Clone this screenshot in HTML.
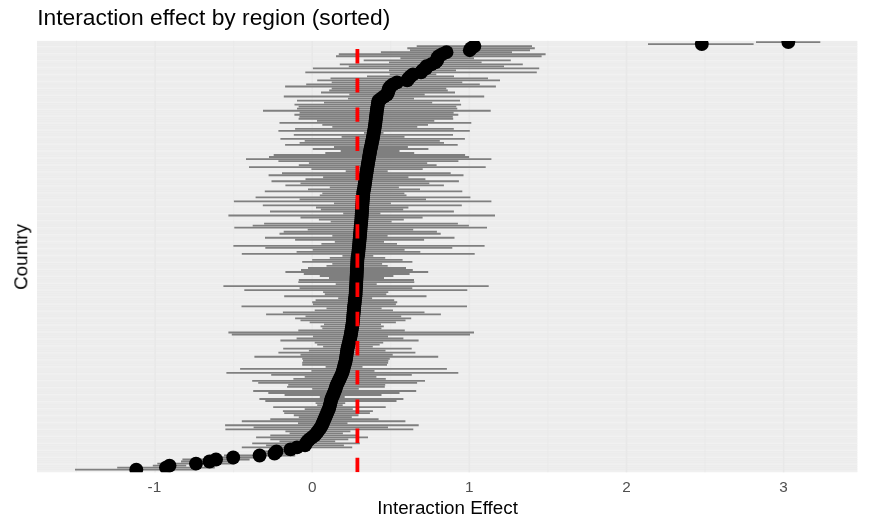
<!DOCTYPE html>
<html><head><meta charset="utf-8"><title>Interaction effect by region (sorted)</title>
<style>
html,body{margin:0;padding:0;background:#fff;}
svg{display:block;}
text{font-family:"Liberation Sans",Arial,Helvetica,sans-serif;}
</style></head><body>
<svg width="876" height="525" viewBox="0 0 876 525">
<rect width="876" height="525" fill="#fff"/>
<defs><clipPath id="pc"><rect x="37" y="40.9" width="820.3" height="431.3"/></clipPath></defs>

<rect x="37" y="40.9" width="820.3" height="431.3" fill="#ececec"/>
<path d="M37 42H857.3M37 44.3H857.3M37 49H857.3M37 51.3H857.3M37 55.9H857.3M37 58.3H857.3M37 62.9H857.3M37 65.2H857.3M37 69.9H857.3M37 72.2H857.3M37 76.8H857.3M37 79.1H857.3M37 83.8H857.3M37 86.1H857.3M37 90.7H857.3M37 93H857.3M37 97.7H857.3M37 100H857.3M37 104.6H857.3M37 107H857.3M37 111.6H857.3M37 113.9H857.3M37 118.6H857.3M37 120.9H857.3M37 125.5H857.3M37 127.8H857.3M37 132.5H857.3M37 134.8H857.3M37 139.4H857.3M37 141.8H857.3M37 146.4H857.3M37 148.7H857.3M37 153.4H857.3M37 155.7H857.3M37 160.3H857.3M37 162.6H857.3M37 167.3H857.3M37 169.6H857.3M37 174.2H857.3M37 176.6H857.3M37 181.2H857.3M37 183.5H857.3M37 188.2H857.3M37 190.5H857.3M37 195.1H857.3M37 197.5H857.3M37 202.1H857.3M37 204.4H857.3M37 209.1H857.3M37 211.4H857.3M37 216H857.3M37 218.3H857.3M37 223H857.3M37 225.3H857.3M37 229.9H857.3M37 232.3H857.3M37 236.9H857.3M37 239.2H857.3M37 243.9H857.3M37 246.2H857.3M37 250.8H857.3M37 253.1H857.3M37 257.8H857.3M37 260.1H857.3M37 264.7H857.3M37 267.1H857.3M37 271.7H857.3M37 274H857.3M37 278.7H857.3M37 281H857.3M37 285.6H857.3M37 287.9H857.3M37 292.6H857.3M37 294.9H857.3M37 299.5H857.3M37 301.8H857.3M37 306.5H857.3M37 308.8H857.3M37 313.4H857.3M37 315.8H857.3M37 320.4H857.3M37 322.7H857.3M37 327.4H857.3M37 329.7H857.3M37 334.3H857.3M37 336.6H857.3M37 341.3H857.3M37 343.6H857.3M37 348.2H857.3M37 350.6H857.3M37 355.2H857.3M37 357.5H857.3M37 362.2H857.3M37 364.5H857.3M37 369.1H857.3M37 371.4H857.3M37 376.1H857.3M37 378.4H857.3M37 383H857.3M37 385.4H857.3M37 390H857.3M37 392.3H857.3M37 397H857.3M37 399.3H857.3M37 403.9H857.3M37 406.2H857.3M37 410.9H857.3M37 413.2H857.3M37 417.8H857.3M37 420.2H857.3M37 424.8H857.3M37 427.1H857.3M37 431.8H857.3M37 434.1H857.3M37 438.7H857.3M37 441H857.3M37 445.7H857.3M37 448H857.3M37 452.6H857.3M37 455H857.3M37 459.6H857.3M37 461.9H857.3M37 466.6H857.3M37 468.9H857.3" stroke="#eeeeee" stroke-width="1" fill="none"/>
<path d="M37 46.7H857.3M37 53.6H857.3M37 60.6H857.3M37 67.5H857.3M37 74.5H857.3M37 81.5H857.3M37 88.4H857.3M37 95.4H857.3M37 102.3H857.3M37 109.3H857.3M37 116.2H857.3M37 123.2H857.3M37 130.2H857.3M37 137.1H857.3M37 144.1H857.3M37 151H857.3M37 158H857.3M37 165H857.3M37 171.9H857.3M37 178.9H857.3M37 185.9H857.3M37 192.8H857.3M37 199.8H857.3M37 206.7H857.3M37 213.7H857.3M37 220.7H857.3M37 227.6H857.3M37 234.6H857.3M37 241.5H857.3M37 248.5H857.3M37 255.5H857.3M37 262.4H857.3M37 269.4H857.3M37 276.3H857.3M37 283.3H857.3M37 290.2H857.3M37 297.2H857.3M37 304.2H857.3M37 311.1H857.3M37 318.1H857.3M37 325H857.3M37 332H857.3M37 339H857.3M37 345.9H857.3M37 352.9H857.3M37 359.8H857.3M37 366.8H857.3M37 373.8H857.3M37 380.7H857.3M37 387.7H857.3M37 394.6H857.3M37 401.6H857.3M37 408.6H857.3M37 415.5H857.3M37 422.5H857.3M37 429.4H857.3M37 436.4H857.3M37 443.4H857.3M37 450.3H857.3M37 457.3H857.3M37 464.2H857.3M37 471.2H857.3" stroke="#f1f1f1" stroke-width="1.3" fill="none"/>
<path d="M155.1 40.9V472.2M312.2 40.9V472.2M469.3 40.9V472.2M626.5 40.9V472.2M783.6 40.9V472.2" stroke="#e8e8e8" stroke-width="1.6" fill="none"/>
<path d="M76.5 40.9V472.2M233.6 40.9V472.2M390.8 40.9V472.2M547.9 40.9V472.2M705 40.9V472.2" stroke="#e9e9e9" stroke-width="0.9" fill="none"/>
<g clip-path="url(#pc)">
<g stroke="#7f7f7f" stroke-width="1.85" fill="none">
<path d="M75 469.6H196.6"/>
<path d="M117.2 467.6H214.8"/>
<path d="M152.8 465.6H186.2"/>
<path d="M157.3 463.6H234.7"/>
<path d="M181 461.5H238"/>
<path d="M182.4 459.5H249.6"/>
<path d="M210 457.5H256.4"/>
<path d="M224 455.5H295.2"/>
<path d="M258 453.5H291"/>
<path d="M261 451.5H292"/>
<path d="M271 449.4H310"/>
<path d="M241.8 447.4H352.2"/>
<path d="M266.1 445.4H343.9"/>
<path d="M252.2 443.4H359.8"/>
<path d="M279.5 441.4H335.2"/>
<path d="M270.3 439.4H348.3"/>
<path d="M256.1 437.3H368"/>
<path d="M270.3 435.3H359"/>
<path d="M289.6 433.3H342.9"/>
<path d="M285.4 431.3H350.4"/>
<path d="M225.4 429.3H413.3"/>
<path d="M253.6 427.3H388"/>
<path d="M225.1 425.2H418.7"/>
<path d="M298 423.2H347.5"/>
<path d="M241.8 421.2H405.4"/>
<path d="M270.3 419.2H378.6"/>
<path d="M298.8 417.2H351.8"/>
<path d="M293.8 415.2H358.5"/>
<path d="M284.2 413.1H369.9"/>
<path d="M282.9 411.1H372.9"/>
<path d="M304.7 409.1H352.8"/>
<path d="M273.2 407.1H385.7"/>
<path d="M317.2 405.1H342.7"/>
<path d="M315.6 403.1H345.2"/>
<path d="M265.3 401H396.5"/>
<path d="M259.4 399H403.4"/>
<path d="M319.8 397H344.7"/>
<path d="M284.6 395H381.5"/>
<path d="M268.3 393H399.5"/>
<path d="M253.2 391H416.2"/>
<path d="M312.2 388.9H358.8"/>
<path d="M287.1 386.9H384.8"/>
<path d="M288.2 384.9H385.2"/>
<path d="M258.2 382.9H417.1"/>
<path d="M252.2 380.9H425"/>
<path d="M293.4 378.9H385.8"/>
<path d="M304.7 376.8H376.4"/>
<path d="M271.2 374.8H411.8"/>
<path d="M226.4 372.8H458.3"/>
<path d="M311.4 370.8H374.5"/>
<path d="M240.1 368.8H446.9"/>
<path d="M325.6 366.8H362.5"/>
<path d="M302.2 364.7H387"/>
<path d="M302.2 362.7H388.1"/>
<path d="M303 360.7H388.4"/>
<path d="M302.2 358.7H389.8"/>
<path d="M254.4 356.7H438.2"/>
<path d="M300.5 354.7H392.7"/>
<path d="M278.4 352.6H415.4"/>
<path d="M308.9 350.6H385.5"/>
<path d="M283.2 348.6H411.7"/>
<path d="M323.1 346.6H372.8"/>
<path d="M317.2 344.6H379.7"/>
<path d="M314.7 342.6H383.2"/>
<path d="M280.4 340.5H418.6"/>
<path d="M296.6 338.5H403.4"/>
<path d="M313 336.5H388"/>
<path d="M231.8 334.5H470"/>
<path d="M228.4 332.5H474"/>
<path d="M298.3 330.5H404.8"/>
<path d="M322.3 328.4H381.4"/>
<path d="M320.6 326.4H383.8"/>
<path d="M324 324.4H381"/>
<path d="M309.7 322.4H395.9"/>
<path d="M300.5 320.4H405.5"/>
<path d="M295.1 318.4H411.2"/>
<path d="M305.5 316.3H401.2"/>
<path d="M266.1 314.3H440.9"/>
<path d="M282.9 312.3H424.5"/>
<path d="M314.7 310.3H393"/>
<path d="M326.5 308.3H381.6"/>
<path d="M241.5 306.3H467"/>
<path d="M313 304.2H395.9"/>
<path d="M312.2 302.2H397.2"/>
<path d="M315.6 300.2H394.2"/>
<path d="M338.2 298.2H372.1"/>
<path d="M284.2 296.2H426.5"/>
<path d="M324.8 294.2H386.3"/>
<path d="M323.1 292.1H388.3"/>
<path d="M244.3 290.1H467.3"/>
<path d="M299.6 288.1H412.3"/>
<path d="M223.4 286.1H488.7"/>
<path d="M335.7 284.1H376.7"/>
<path d="M298.3 282.1H414.3"/>
<path d="M298.8 280H414"/>
<path d="M329 278H384"/>
<path d="M319.8 276H393.4"/>
<path d="M303.8 274H409.6"/>
<path d="M285.4 272H428.2"/>
<path d="M301 270H412.8"/>
<path d="M308 268H406"/>
<path d="M326.5 265.9H387.7"/>
<path d="M332.3 263.9H382.1"/>
<path d="M302.2 261.9H412.4"/>
<path d="M312.2 259.9H402.6"/>
<path d="M329.8 257.9H385.2"/>
<path d="M342.4 255.9H373.3"/>
<path d="M241.8 253.8H474.7"/>
<path d="M296.6 251.8H420.3"/>
<path d="M312.7 249.8H404.6"/>
<path d="M265.3 247.8H452.3"/>
<path d="M233.4 245.8H484.6"/>
<path d="M321.4 243.8H397"/>
<path d="M334.8 241.7H384"/>
<path d="M295.1 239.7H424.1"/>
<path d="M265 237.7H454.5"/>
<path d="M332.3 235.7H387.6"/>
<path d="M279.5 233.7H440.7"/>
<path d="M283.7 231.7H436.9"/>
<path d="M307.7 229.6H413.2"/>
<path d="M234.3 227.6H487"/>
<path d="M252.7 225.6H468.9"/>
<path d="M264.1 223.6H457.9"/>
<path d="M330.7 221.6H391.6"/>
<path d="M318.9 219.6H403.8"/>
<path d="M300.5 217.5H422.6"/>
<path d="M228.4 215.5H495"/>
<path d="M343.2 213.5H380.4"/>
<path d="M270 211.5H453.9"/>
<path d="M320.9 209.5H403.2"/>
<path d="M316 207.5H408.4"/>
<path d="M262.8 205.4H461.8"/>
<path d="M334 203.4H390.9"/>
<path d="M233.9 201.4H491.4"/>
<path d="M299.6 199.4H426"/>
<path d="M255.6 197.4H470.4"/>
<path d="M319.8 195.4H406.5"/>
<path d="M322.3 193.3H404.4"/>
<path d="M264.8 191.3H462.3"/>
<path d="M308 189.3H420"/>
<path d="M329.8 187.3H398.9"/>
<path d="M285.4 185.3H443.9"/>
<path d="M300.5 183.3H429.3"/>
<path d="M271.5 181.2H458.9"/>
<path d="M305.5 179.2H425.4"/>
<path d="M323.1 177.2H408.4"/>
<path d="M268.6 175.2H463.5"/>
<path d="M282 173.2H450.7"/>
<path d="M345.7 171.2H387.7"/>
<path d="M311.4 169.1H422.7"/>
<path d="M249 167.1H485.7"/>
<path d="M298.8 165.1H436.6"/>
<path d="M308.9 163.1H427.2"/>
<path d="M278.4 161.1H458.4"/>
<path d="M246 159.1H491.4"/>
<path d="M269 157H469.1"/>
<path d="M273.7 155H465.1"/>
<path d="M325.3 153H414.2"/>
<path d="M340.7 151H399.5"/>
<path d="M312.7 149H428.4"/>
<path d="M334 147H407.9"/>
<path d="M285.1 144.9H457.7"/>
<path d="M299.6 142.9H444"/>
<path d="M304.7 140.9H439.8"/>
<path d="M280.4 138.9H464.9"/>
<path d="M341.6 136.9H404.5"/>
<path d="M293.8 134.9H453"/>
<path d="M364 132.8H383.5"/>
<path d="M278.4 130.8H469.8"/>
<path d="M295.1 128.8H453.8"/>
<path d="M332.3 126.8H417.3"/>
<path d="M322.3 124.8H428"/>
<path d="M279.5 122.8H471.3"/>
<path d="M317 120.7H434.3"/>
<path d="M298.6 118.7H453.2"/>
<path d="M299.4 116.7H452.8"/>
<path d="M294.4 114.7H458.3"/>
<path d="M299.6 112.7H453.6"/>
<path d="M263 110.7H490.7"/>
<path d="M297 108.6H457.3"/>
<path d="M298.6 106.6H456.3"/>
<path d="M294.5 104.6H461.1"/>
<path d="M324 102.6H432.2"/>
<path d="M297 100.6H460"/>
<path d="M348 98.6H414"/>
<path d="M283.8 96.5H484.2"/>
<path d="M349.3 94.5H424.7"/>
<path d="M321 92.5H455"/>
<path d="M329.2 90.5H447.8"/>
<path d="M331.7 88.5H446.3"/>
<path d="M285.1 86.5H495.9"/>
<path d="M306.2 84.4H479.8"/>
<path d="M331.7 82.4H462.3"/>
<path d="M317.2 80.4H500"/>
<path d="M330.5 78.4H488"/>
<path d="M367 76.4H454"/>
<path d="M389.7 74.4H436.3"/>
<path d="M305.3 72.3H536.8"/>
<path d="M389 70.3H456"/>
<path d="M312.9 68.3H539.2"/>
<path d="M348.8 66.3H504"/>
<path d="M339.8 64.3H522.8"/>
<path d="M389 62.3H481.6"/>
<path d="M363.7 60.3H510.8"/>
<path d="M400.4 58.2H474"/>
<path d="M336 56.2H541.6"/>
<path d="M338.8 54.2H545.6"/>
<path d="M380.9 52.2H512"/>
<path d="M410 50.2H530"/>
<path d="M407.3 48.2H534.8"/>
<path d="M416.7 46.1H532"/>
<path d="M648 44.1H753.6"/>
<path d="M756 42.1H820.3"/>
</g>
<g fill="#000">
<circle cx="136.3" cy="469.6" r="6.95"/>
<circle cx="166" cy="467.6" r="6.95"/>
<circle cx="169.5" cy="465.6" r="6.95"/>
<circle cx="196" cy="463.6" r="6.95"/>
<circle cx="209.5" cy="461.5" r="6.95"/>
<circle cx="216" cy="459.5" r="6.95"/>
<circle cx="233.2" cy="457.5" r="6.95"/>
<circle cx="259.6" cy="455.5" r="6.95"/>
<circle cx="274.5" cy="453.5" r="6.95"/>
<circle cx="276.5" cy="451.5" r="6.95"/>
<circle cx="290.5" cy="449.4" r="6.95"/>
<circle cx="297" cy="447.4" r="6.95"/>
<circle cx="305" cy="445.4" r="6.95"/>
<circle cx="306" cy="443.4" r="6.95"/>
<circle cx="307.3" cy="441.4" r="6.95"/>
<circle cx="309.3" cy="439.4" r="6.95"/>
<circle cx="312" cy="437.3" r="6.95"/>
<circle cx="314.7" cy="435.3" r="6.95"/>
<circle cx="316.3" cy="433.3" r="6.95"/>
<circle cx="317.9" cy="431.3" r="6.95"/>
<circle cx="319.3" cy="429.3" r="6.95"/>
<circle cx="320.8" cy="427.3" r="6.95"/>
<circle cx="321.9" cy="425.2" r="6.95"/>
<circle cx="322.8" cy="423.2" r="6.95"/>
<circle cx="323.6" cy="421.2" r="6.95"/>
<circle cx="324.5" cy="419.2" r="6.95"/>
<circle cx="325.3" cy="417.2" r="6.95"/>
<circle cx="326.2" cy="415.2" r="6.95"/>
<circle cx="327" cy="413.1" r="6.95"/>
<circle cx="327.9" cy="411.1" r="6.95"/>
<circle cx="328.8" cy="409.1" r="6.95"/>
<circle cx="329.4" cy="407.1" r="6.95"/>
<circle cx="329.9" cy="405.1" r="6.95"/>
<circle cx="330.4" cy="403.1" r="6.95"/>
<circle cx="330.9" cy="401" r="6.95"/>
<circle cx="331.4" cy="399" r="6.95"/>
<circle cx="332.2" cy="397" r="6.95"/>
<circle cx="333.1" cy="395" r="6.95"/>
<circle cx="333.9" cy="393" r="6.95"/>
<circle cx="334.7" cy="391" r="6.95"/>
<circle cx="335.5" cy="388.9" r="6.95"/>
<circle cx="336" cy="386.9" r="6.95"/>
<circle cx="336.7" cy="384.9" r="6.95"/>
<circle cx="337.7" cy="382.9" r="6.95"/>
<circle cx="338.6" cy="380.9" r="6.95"/>
<circle cx="339.6" cy="378.9" r="6.95"/>
<circle cx="340.6" cy="376.8" r="6.95"/>
<circle cx="341.5" cy="374.8" r="6.95"/>
<circle cx="342.4" cy="372.8" r="6.95"/>
<circle cx="342.9" cy="370.8" r="6.95"/>
<circle cx="343.5" cy="368.8" r="6.95"/>
<circle cx="344" cy="366.8" r="6.95"/>
<circle cx="344.6" cy="364.7" r="6.95"/>
<circle cx="345.2" cy="362.7" r="6.95"/>
<circle cx="345.7" cy="360.7" r="6.95"/>
<circle cx="346" cy="358.7" r="6.95"/>
<circle cx="346.3" cy="356.7" r="6.95"/>
<circle cx="346.6" cy="354.7" r="6.95"/>
<circle cx="346.9" cy="352.6" r="6.95"/>
<circle cx="347.2" cy="350.6" r="6.95"/>
<circle cx="347.5" cy="348.6" r="6.95"/>
<circle cx="348" cy="346.6" r="6.95"/>
<circle cx="348.5" cy="344.6" r="6.95"/>
<circle cx="349" cy="342.6" r="6.95"/>
<circle cx="349.5" cy="340.5" r="6.95"/>
<circle cx="350" cy="338.5" r="6.95"/>
<circle cx="350.5" cy="336.5" r="6.95"/>
<circle cx="350.9" cy="334.5" r="6.95"/>
<circle cx="351.2" cy="332.5" r="6.95"/>
<circle cx="351.5" cy="330.5" r="6.95"/>
<circle cx="351.9" cy="328.4" r="6.95"/>
<circle cx="352.2" cy="326.4" r="6.95"/>
<circle cx="352.5" cy="324.4" r="6.95"/>
<circle cx="352.8" cy="322.4" r="6.95"/>
<circle cx="353" cy="320.4" r="6.95"/>
<circle cx="353.2" cy="318.4" r="6.95"/>
<circle cx="353.3" cy="316.3" r="6.95"/>
<circle cx="353.5" cy="314.3" r="6.95"/>
<circle cx="353.7" cy="312.3" r="6.95"/>
<circle cx="353.9" cy="310.3" r="6.95"/>
<circle cx="354" cy="308.3" r="6.95"/>
<circle cx="354.2" cy="306.3" r="6.95"/>
<circle cx="354.5" cy="304.2" r="6.95"/>
<circle cx="354.7" cy="302.2" r="6.95"/>
<circle cx="354.9" cy="300.2" r="6.95"/>
<circle cx="355.1" cy="298.2" r="6.95"/>
<circle cx="355.4" cy="296.2" r="6.95"/>
<circle cx="355.6" cy="294.2" r="6.95"/>
<circle cx="355.7" cy="292.1" r="6.95"/>
<circle cx="355.8" cy="290.1" r="6.95"/>
<circle cx="355.9" cy="288.1" r="6.95"/>
<circle cx="356.1" cy="286.1" r="6.95"/>
<circle cx="356.2" cy="284.1" r="6.95"/>
<circle cx="356.3" cy="282.1" r="6.95"/>
<circle cx="356.4" cy="280" r="6.95"/>
<circle cx="356.5" cy="278" r="6.95"/>
<circle cx="356.6" cy="276" r="6.95"/>
<circle cx="356.7" cy="274" r="6.95"/>
<circle cx="356.8" cy="272" r="6.95"/>
<circle cx="356.9" cy="270" r="6.95"/>
<circle cx="357" cy="268" r="6.95"/>
<circle cx="357.1" cy="265.9" r="6.95"/>
<circle cx="357.2" cy="263.9" r="6.95"/>
<circle cx="357.3" cy="261.9" r="6.95"/>
<circle cx="357.4" cy="259.9" r="6.95"/>
<circle cx="357.5" cy="257.9" r="6.95"/>
<circle cx="357.9" cy="255.9" r="6.95"/>
<circle cx="358.2" cy="253.8" r="6.95"/>
<circle cx="358.4" cy="251.8" r="6.95"/>
<circle cx="358.6" cy="249.8" r="6.95"/>
<circle cx="358.8" cy="247.8" r="6.95"/>
<circle cx="359" cy="245.8" r="6.95"/>
<circle cx="359.2" cy="243.8" r="6.95"/>
<circle cx="359.4" cy="241.7" r="6.95"/>
<circle cx="359.6" cy="239.7" r="6.95"/>
<circle cx="359.8" cy="237.7" r="6.95"/>
<circle cx="359.9" cy="235.7" r="6.95"/>
<circle cx="360.1" cy="233.7" r="6.95"/>
<circle cx="360.3" cy="231.7" r="6.95"/>
<circle cx="360.5" cy="229.6" r="6.95"/>
<circle cx="360.6" cy="227.6" r="6.95"/>
<circle cx="360.8" cy="225.6" r="6.95"/>
<circle cx="361" cy="223.6" r="6.95"/>
<circle cx="361.2" cy="221.6" r="6.95"/>
<circle cx="361.4" cy="219.6" r="6.95"/>
<circle cx="361.5" cy="217.5" r="6.95"/>
<circle cx="361.7" cy="215.5" r="6.95"/>
<circle cx="361.8" cy="213.5" r="6.95"/>
<circle cx="361.9" cy="211.5" r="6.95"/>
<circle cx="362.1" cy="209.5" r="6.95"/>
<circle cx="362.2" cy="207.5" r="6.95"/>
<circle cx="362.3" cy="205.4" r="6.95"/>
<circle cx="362.5" cy="203.4" r="6.95"/>
<circle cx="362.6" cy="201.4" r="6.95"/>
<circle cx="362.8" cy="199.4" r="6.95"/>
<circle cx="363" cy="197.4" r="6.95"/>
<circle cx="363.2" cy="195.4" r="6.95"/>
<circle cx="363.3" cy="193.3" r="6.95"/>
<circle cx="363.5" cy="191.3" r="6.95"/>
<circle cx="364" cy="189.3" r="6.95"/>
<circle cx="364.4" cy="187.3" r="6.95"/>
<circle cx="364.6" cy="185.3" r="6.95"/>
<circle cx="364.9" cy="183.3" r="6.95"/>
<circle cx="365.2" cy="181.2" r="6.95"/>
<circle cx="365.5" cy="179.2" r="6.95"/>
<circle cx="365.7" cy="177.2" r="6.95"/>
<circle cx="366" cy="175.2" r="6.95"/>
<circle cx="366.4" cy="173.2" r="6.95"/>
<circle cx="366.7" cy="171.2" r="6.95"/>
<circle cx="367" cy="169.1" r="6.95"/>
<circle cx="367.4" cy="167.1" r="6.95"/>
<circle cx="367.7" cy="165.1" r="6.95"/>
<circle cx="368" cy="163.1" r="6.95"/>
<circle cx="368.4" cy="161.1" r="6.95"/>
<circle cx="368.7" cy="159.1" r="6.95"/>
<circle cx="369.1" cy="157" r="6.95"/>
<circle cx="369.4" cy="155" r="6.95"/>
<circle cx="369.8" cy="153" r="6.95"/>
<circle cx="370.1" cy="151" r="6.95"/>
<circle cx="370.5" cy="149" r="6.95"/>
<circle cx="371" cy="147" r="6.95"/>
<circle cx="371.4" cy="144.9" r="6.95"/>
<circle cx="371.8" cy="142.9" r="6.95"/>
<circle cx="372.2" cy="140.9" r="6.95"/>
<circle cx="372.7" cy="138.9" r="6.95"/>
<circle cx="373" cy="136.9" r="6.95"/>
<circle cx="373.4" cy="134.9" r="6.95"/>
<circle cx="373.8" cy="132.8" r="6.95"/>
<circle cx="374.1" cy="130.8" r="6.95"/>
<circle cx="374.5" cy="128.8" r="6.95"/>
<circle cx="374.8" cy="126.8" r="6.95"/>
<circle cx="375.1" cy="124.8" r="6.95"/>
<circle cx="375.4" cy="122.8" r="6.95"/>
<circle cx="375.6" cy="120.7" r="6.95"/>
<circle cx="375.9" cy="118.7" r="6.95"/>
<circle cx="376.1" cy="116.7" r="6.95"/>
<circle cx="376.4" cy="114.7" r="6.95"/>
<circle cx="376.6" cy="112.7" r="6.95"/>
<circle cx="376.8" cy="110.7" r="6.95"/>
<circle cx="377.1" cy="108.6" r="6.95"/>
<circle cx="377.5" cy="106.6" r="6.95"/>
<circle cx="377.8" cy="104.6" r="6.95"/>
<circle cx="378.1" cy="102.6" r="6.95"/>
<circle cx="378.5" cy="100.6" r="6.95"/>
<circle cx="381" cy="98.6" r="6.95"/>
<circle cx="384" cy="96.5" r="6.95"/>
<circle cx="387" cy="94.5" r="6.95"/>
<circle cx="388" cy="92.5" r="6.95"/>
<circle cx="388.5" cy="90.5" r="6.95"/>
<circle cx="389" cy="88.5" r="6.95"/>
<circle cx="390.5" cy="86.5" r="6.95"/>
<circle cx="393" cy="84.4" r="6.95"/>
<circle cx="397" cy="82.4" r="6.95"/>
<circle cx="407.2" cy="80.4" r="6.95"/>
<circle cx="408.6" cy="78.4" r="6.95"/>
<circle cx="410.5" cy="76.4" r="6.95"/>
<circle cx="413" cy="74.4" r="6.95"/>
<circle cx="421" cy="72.3" r="6.95"/>
<circle cx="422.5" cy="70.3" r="6.95"/>
<circle cx="426" cy="68.3" r="6.95"/>
<circle cx="426.4" cy="66.3" r="6.95"/>
<circle cx="431.3" cy="64.3" r="6.95"/>
<circle cx="435.3" cy="62.3" r="6.95"/>
<circle cx="437.2" cy="60.3" r="6.95"/>
<circle cx="437.2" cy="58.2" r="6.95"/>
<circle cx="438.8" cy="56.2" r="6.95"/>
<circle cx="442.2" cy="54.2" r="6.95"/>
<circle cx="446.5" cy="52.2" r="6.95"/>
<circle cx="469.8" cy="50.2" r="6.95"/>
<circle cx="471.2" cy="48.2" r="6.95"/>
<circle cx="474.4" cy="46.1" r="6.95"/>
<circle cx="701.8" cy="44.1" r="6.95"/>
<circle cx="788.3" cy="42.1" r="6.95"/>
</g>
<path d="M357.4 472.2V40.9" stroke="#ff0000" stroke-width="3.8" stroke-dasharray="14.4 14.8" fill="none"/>
</g>
<g opacity="0.99">
<text x="37.2" y="25.2" font-size="22.8" fill="#000">Interaction effect by region (sorted)</text>
<text x="154.4" y="492.4" font-size="15.3" fill="#4d4d4d" text-anchor="middle">-1</text>
<text x="312.2" y="492.4" font-size="15.3" fill="#4d4d4d" text-anchor="middle">0</text>
<text x="469.3" y="492.4" font-size="15.3" fill="#4d4d4d" text-anchor="middle">1</text>
<text x="626.5" y="492.4" font-size="15.3" fill="#4d4d4d" text-anchor="middle">2</text>
<text x="783.6" y="492.4" font-size="15.3" fill="#4d4d4d" text-anchor="middle">3</text>
<text x="447.6" y="514.3" font-size="18.8" fill="#000" text-anchor="middle">Interaction Effect</text>
<text transform="translate(27.3 256.9) rotate(-90)" font-size="18.9" fill="#000" text-anchor="middle">Country</text>
</g>
</svg></body></html>
